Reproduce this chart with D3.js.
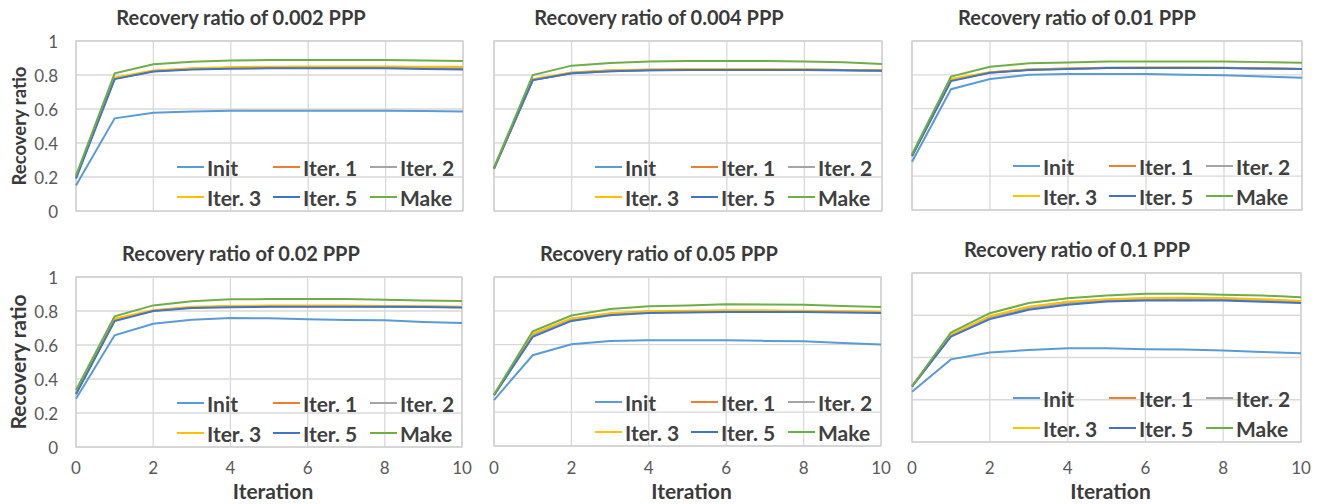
<!DOCTYPE html>
<html>
<head>
<meta charset="utf-8">
<style>
    body { margin: 0; background: #fff; }
    svg { display: block; font-family: Lato, 'Open Sans', sans-serif; }
    .title { font-weight: bold; font-size: 20px; fill: #3a3a3a; }
    .tick-label { font-size: 17px; fill: #595959; }
    .axis-title { font-weight: bold; fill: #3a3a3a; }
    .legend-text { font-weight: bold; font-size: 21px; fill: #404040; }
</style>
</head>
<body>
<svg width="1339" height="504"></svg>

<script src="https://d3js.org/d3.v7.min.js"></script>
<script>
    let iterations = d3.range(0, 11)
    let seriesNames = ["Init", "Iter. 1", "Iter. 2", "Iter. 3", "Iter. 5", "Make"]
    let seriesColors = ["#5B9BD5", "#ED7D31", "#A5A5A5", "#FFC000", "#4472C4", "#70AD47"]
    let panelTitles = ["Recovery ratio of 0.002 PPP", "Recovery ratio of 0.004 PPP", "Recovery ratio of 0.01 PPP",
        "Recovery ratio of 0.02 PPP", "Recovery ratio of 0.05 PPP", "Recovery ratio of 0.1 PPP"]
    let xTicks = [0, 2, 4, 6, 8, 10]
    let yTicks = [0, 0.2, 0.4, 0.6, 0.8, 1]
    let yTicksQuarter = [0, 0.25, 0.5, 0.75, 1]

    // one array per series, order = seriesNames
    let ppp0002 = [
        [0.15, 0.545, 0.578, 0.585, 0.59, 0.59, 0.59, 0.59, 0.59, 0.588, 0.585],
        [0.2, 0.78, 0.822, 0.836, 0.842, 0.845, 0.846, 0.846, 0.845, 0.843, 0.84],
        [0.2, 0.782, 0.823, 0.837, 0.843, 0.846, 0.847, 0.847, 0.846, 0.844, 0.842],
        [0.2, 0.785, 0.826, 0.84, 0.846, 0.849, 0.85, 0.85, 0.85, 0.849, 0.848],
        [0.19, 0.776, 0.82, 0.832, 0.837, 0.84, 0.84, 0.84, 0.84, 0.836, 0.833],
        [0.21, 0.81, 0.863, 0.878, 0.885, 0.888, 0.888, 0.888, 0.888, 0.885, 0.882]
    ]
    let ppp0004 = [
        [0.25, 0.77, 0.81, 0.822, 0.828, 0.83, 0.83, 0.83, 0.83, 0.828, 0.825],
        [0.25, 0.772, 0.812, 0.825, 0.83, 0.832, 0.832, 0.832, 0.831, 0.829, 0.826],
        [0.25, 0.773, 0.813, 0.826, 0.831, 0.833, 0.833, 0.833, 0.832, 0.829, 0.826],
        [0.25, 0.775, 0.815, 0.828, 0.833, 0.835, 0.835, 0.835, 0.834, 0.83, 0.827],
        [0.25, 0.77, 0.81, 0.822, 0.828, 0.83, 0.83, 0.83, 0.83, 0.828, 0.825],
        [0.255, 0.8, 0.855, 0.87, 0.88, 0.882, 0.882, 0.882, 0.88, 0.875, 0.865]
    ]
    let ppp001 = [
        [0.286, 0.715, 0.775, 0.8, 0.805, 0.805, 0.805, 0.8, 0.798, 0.79, 0.783],
        [0.32, 0.768, 0.813, 0.83, 0.836, 0.84, 0.841, 0.841, 0.84, 0.837, 0.834],
        [0.32, 0.77, 0.814, 0.831, 0.837, 0.841, 0.842, 0.842, 0.841, 0.838, 0.835],
        [0.325, 0.775, 0.815, 0.832, 0.838, 0.842, 0.843, 0.843, 0.842, 0.838, 0.835],
        [0.32, 0.763, 0.812, 0.828, 0.835, 0.84, 0.84, 0.84, 0.84, 0.838, 0.834],
        [0.33, 0.79, 0.848, 0.868, 0.873, 0.878, 0.878, 0.878, 0.878, 0.875, 0.872]
    ]
    let ppp002 = [
        [0.284, 0.657, 0.725, 0.749, 0.759, 0.757, 0.752, 0.747, 0.745, 0.735, 0.729],
        [0.315, 0.745, 0.802, 0.82, 0.826, 0.828, 0.828, 0.828, 0.827, 0.825, 0.822],
        [0.315, 0.748, 0.803, 0.821, 0.827, 0.829, 0.829, 0.829, 0.828, 0.826, 0.823],
        [0.32, 0.755, 0.805, 0.825, 0.83, 0.832, 0.832, 0.832, 0.83, 0.828, 0.825],
        [0.31, 0.741, 0.8, 0.818, 0.822, 0.825, 0.825, 0.825, 0.825, 0.823, 0.82],
        [0.335, 0.769, 0.833, 0.857, 0.869, 0.87, 0.87, 0.87, 0.866, 0.862, 0.859]
    ]
    let ppp005 = [
        [0.272, 0.537, 0.602, 0.622, 0.626, 0.626, 0.626, 0.622, 0.62, 0.61, 0.6],
        [0.3, 0.66, 0.752, 0.783, 0.795, 0.798, 0.8, 0.8, 0.798, 0.795, 0.793],
        [0.3, 0.658, 0.75, 0.781, 0.793, 0.797, 0.799, 0.799, 0.797, 0.794, 0.791],
        [0.3, 0.665, 0.755, 0.785, 0.797, 0.8, 0.802, 0.802, 0.8, 0.798, 0.795],
        [0.3, 0.646, 0.74, 0.774, 0.787, 0.79, 0.793, 0.793, 0.793, 0.79, 0.787],
        [0.305, 0.679, 0.772, 0.811, 0.827, 0.832, 0.839, 0.837, 0.836, 0.828, 0.823]
    ]
    let ppp01 = [
        [0.297, 0.489, 0.529, 0.545, 0.554, 0.554, 0.549, 0.547, 0.541, 0.533, 0.525],
        [0.33, 0.63, 0.74, 0.795, 0.825, 0.84, 0.848, 0.848, 0.847, 0.84, 0.832],
        [0.33, 0.628, 0.738, 0.793, 0.823, 0.838, 0.846, 0.846, 0.845, 0.838, 0.83],
        [0.33, 0.635, 0.745, 0.8, 0.83, 0.845, 0.852, 0.853, 0.852, 0.845, 0.835],
        [0.327, 0.624, 0.727, 0.782, 0.812, 0.832, 0.838, 0.838, 0.838, 0.83, 0.822],
        [0.33, 0.648, 0.762, 0.822, 0.85, 0.867, 0.877, 0.877, 0.871, 0.867, 0.857]
    ]
    let panelData = [ppp0002, ppp0004, ppp001, ppp002, ppp005, ppp01]

    // plot boxes (left, top, width, height)
    let boxes = [
        { x: 76, y: 41, w: 387, h: 170 },
        { x: 494, y: 41, w: 388, h: 170 },
        { x: 912, y: 41, w: 390, h: 169 },
        { x: 76, y: 277, w: 386, h: 170 },
        { x: 494, y: 277, w: 387, h: 169 },
        { x: 912, y: 273, w: 389, h: 169 }
    ]

    let svg = d3.select("svg")

    panelData.forEach((series, i) => {
        let b = boxes[i]
        let row = Math.floor(i / 3), col = i % 3
        let x = d3.scaleLinear().domain([0, 10]).range([b.x, b.x + b.w])
        let y = d3.scaleLinear().domain([0, 1]).range([b.y + b.h, b.y])
        let yt = i == 5 ? yTicksQuarter : yTicks

        let g = svg.append("g")

        // grid
        g.selectAll(".hgrid").data(yt).join("line")
            .attr("x1", b.x).attr("x2", b.x + b.w)
            .attr("y1", d => y(d)).attr("y2", d => y(d))
            .attr("stroke", "#d9d9d9").attr("stroke-width", 1.3)
        g.selectAll(".vgrid").data(xTicks).join("line")
            .attr("x1", d => x(d)).attr("x2", d => x(d))
            .attr("y1", b.y).attr("y2", b.y + b.h)
            .attr("stroke", "#d9d9d9").attr("stroke-width", 1.3)
        g.append("rect")
            .attr("x", b.x).attr("y", b.y).attr("width", b.w).attr("height", b.h)
            .attr("fill", "none").attr("stroke", "#cfcfcf").attr("stroke-width", 1.3)

        // title
        g.append("text").attr("class", "title")
            .attr("x", b.x + 165).attr("y", b.y - 24)
            .attr("text-anchor", "middle").attr("dominant-baseline", "central")
            .text(panelTitles[i])

        if (col == 0) {
            g.selectAll(".ytick").data(yt).join("text")
                .attr("class", "tick-label")
                .attr("x", b.x - 18).attr("y", d => y(d))
                .attr("text-anchor", "end").attr("dominant-baseline", "central")
                .text(d => d)
            let cy = b.y + b.h / 2
            g.append("text").attr("class", "axis-title")
                .attr("transform", `translate(${row == 0 ? 19 : 17},${cy}) rotate(-90)`)
                .attr("text-anchor", "middle").attr("dominant-baseline", "central")
                .style("font-size", row == 0 ? "18.5px" : "21px")
                .text("Recovery ratio")
        }
        if (row == 1) {
            g.selectAll(".xtick").data(xTicks).join("text")
                .attr("class", "tick-label")
                .attr("x", d => x(d)).attr("y", 467)
                .attr("text-anchor", "middle").attr("dominant-baseline", "central")
                .text(d => d)
            g.append("text").attr("class", "axis-title")
                .attr("x", b.x + b.w / 2 + 4).attr("y", 499)
                .attr("text-anchor", "middle")
                .style("font-size", "21px")
                .text("Iteration")
        }

        // lines
        let line = d3.line().x((d, k) => x(iterations[k])).y(d => y(d))
        g.selectAll(".series").data(series).join("path")
            .attr("d", line)
            .attr("fill", "none")
            .attr("stroke", (d, k) => seriesColors[k])
            .attr("stroke-width", 2)

        // legend
        let legend = g.selectAll(".legend").data(seriesNames).join("g")
            .attr("transform", (d, k) => `translate(${b.x + [101, 197, 294][k % 3]},${b.y + b.h - (k < 3 ? 44 : 14)})`)
        legend.append("line")
            .attr("x1", 0).attr("x2", 27)
            .attr("stroke", (d, k) => seriesColors[k]).attr("stroke-width", 2)
        legend.append("text").attr("class", "legend-text")
            .attr("x", 30).attr("dominant-baseline", "central")
            .text(d => d)
    })
</script>
</body>
</html>
